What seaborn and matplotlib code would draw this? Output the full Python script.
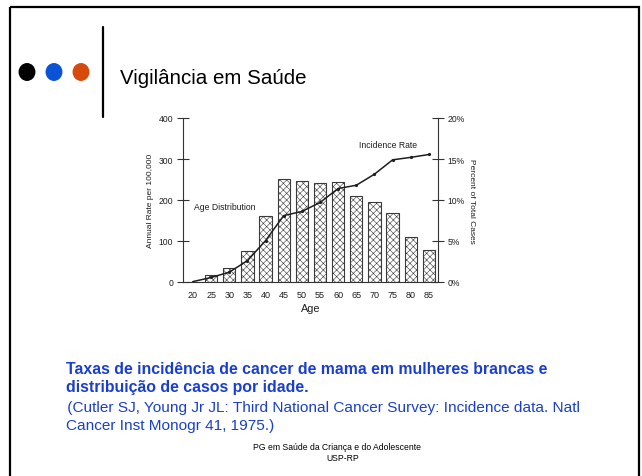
import matplotlib
matplotlib.use("Agg")
import matplotlib.pyplot as plt
from matplotlib.patches import Rectangle, Ellipse
from matplotlib.lines import Line2D
import seaborn as sns
import pandas as pd

# ---- data ----
ages = ["20", "25", "30", "35", "40", "45", "50", "55", "60", "65", "70", "75", "80", "85"]
pct_cases = [0.0, 0.8, 1.7, 3.75, 8.0, 12.55, 12.3, 12.1, 12.2, 10.5, 9.75, 8.45, 5.45, 3.85]
incidence = [1, 11, 24, 52, 101, 162, 172, 194, 228, 236, 263, 298, 304, 311]
left_ticks = [0, 100, 200, 300, 400]
right_ticks = [0, 5, 10, 15, 20]
right_ticklabels = ["0%", "5%", "10%", "15%", "20%"]

title = "Vigilância em Saúde"
caption_bold = ["Taxas de incidência de cancer de mama em mulheres brancas e",
                "distribuição de casos por idade."]
caption_ref = [" (Cutler SJ, Young Jr JL: Third National Cancer Survey: Incidence data. Natl",
               "Cancer Inst Monogr 41, 1975.)"]
footer = ["PG em Saúde da Criança e do Adolescente", "USP-RP"]

df = pd.DataFrame({"age": ages, "pct": pct_cases, "rate": incidence})

sns.set_style("white")
plt.rcParams["font.family"] = ["Liberation Sans", "DejaVu Sans"]
plt.rcParams["hatch.linewidth"] = 0.4

W, H = 642, 477
fig = plt.figure(figsize=(W / 100, H / 100), dpi=100)

# background slide layer in pixel coordinates
bg = fig.add_axes([0, 0, 1, 1])
bg.set_xlim(0, W)
bg.set_ylim(H, 0)
bg.axis("off")
bg.add_patch(Rectangle((9.5, 7.5), 629.5, 480, fill=False, lw=1.6, ec="black"))
for cx, col in [(27, "black"), (54, "#0a52d6"), (81, "#d84a0c")]:
    bg.add_patch(Ellipse((cx, 73), 15.5, 16.5, color=col))
bg.add_line(Line2D([103, 103], [28, 118], color="black", lw=1.6))
bg.text(120, 78, title, fontsize=14.8, va="center", ha="left", color="black")
blue = "#1a3fd0"
bg.text(66, 370, caption_bold[0], fontsize=11.4, fontweight="bold", color=blue, va="center")
bg.text(66, 388, caption_bold[1], fontsize=11.4, fontweight="bold", color=blue, va="center")
bg.text(63, 408, caption_ref[0], fontsize=11.1, color=blue, va="center")
bg.text(66, 426, caption_ref[1], fontsize=11.1, color=blue, va="center")
bg.text(337, 448, footer[0], fontsize=6.2, ha="center", va="center", color="black")
bg.text(343, 459, footer[1], fontsize=6.2, ha="center", va="center", color="black")

# chart
L, R, T, B = 183, 438, 119, 283
ax = fig.add_axes([L / W, 1 - B / H, (R - L) / W, (B - T) / H])
ax2 = ax.twinx()

sns.barplot(data=df, x="age", y="pct", ax=ax2, color="white", edgecolor="#3a3a3a",
            linewidth=0.8, width=0.68)
for p in ax2.patches:
    p.set_hatch("xxxxx")

sns.lineplot(data=df, x="age", y="rate", ax=ax, color="#1e1e1e", lw=1.1,
             marker="o", markersize=2.3, markeredgewidth=0, sort=False)

ax.set_zorder(ax2.get_zorder() + 1)
ax.patch.set_visible(False)

ax.set_xlim(-0.55, 13.5)
ax.set_ylim(0, 400)
ax2.set_ylim(0, 20)
ax.set_yticks(left_ticks)
ax2.set_yticks(right_ticks)
ax2.set_yticklabels(right_ticklabels)

txtc = "#1e1e1e"
for a in (ax, ax2):
    for s in a.spines.values():
        s.set_visible(False)
    a.tick_params(colors="#333333", labelcolor=txtc)
ax.spines["left"].set_visible(True)
ax.spines["bottom"].set_visible(True)
ax2.spines["right"].set_visible(True)
for s in (ax.spines["left"], ax.spines["bottom"], ax2.spines["right"]):
    s.set_color("#333333")
    s.set_linewidth(0.8)

ax.tick_params(axis="y", direction="inout", length=8, width=0.8, labelsize=6.2, pad=3)
ax2.tick_params(axis="y", direction="inout", length=8, width=0.8, labelsize=6.2, pad=3)
ax.tick_params(axis="x", direction="out", length=2.5, width=0.6, labelsize=6.5, pad=3)
ax2.tick_params(axis="x", length=0)

ax.set_xlabel("Age", fontsize=7.8, color=txtc, labelpad=3)
ax.set_ylabel("Annual Rate per 100,000", fontsize=6, color=txtc, labelpad=3)
ax2.set_xlabel("")
ax2.set_ylabel("Percent of Total Cases", fontsize=6, color=txtc, rotation=-90, labelpad=7)

ax.text(10.75, 336, "Incidence Rate", fontsize=6.2, ha="center", va="center", color=txtc)
ax.text(1.75, 185, "Age Distribution", fontsize=6.2, ha="center", va="center", color=txtc)

fig.savefig("out.png", dpi=100)
